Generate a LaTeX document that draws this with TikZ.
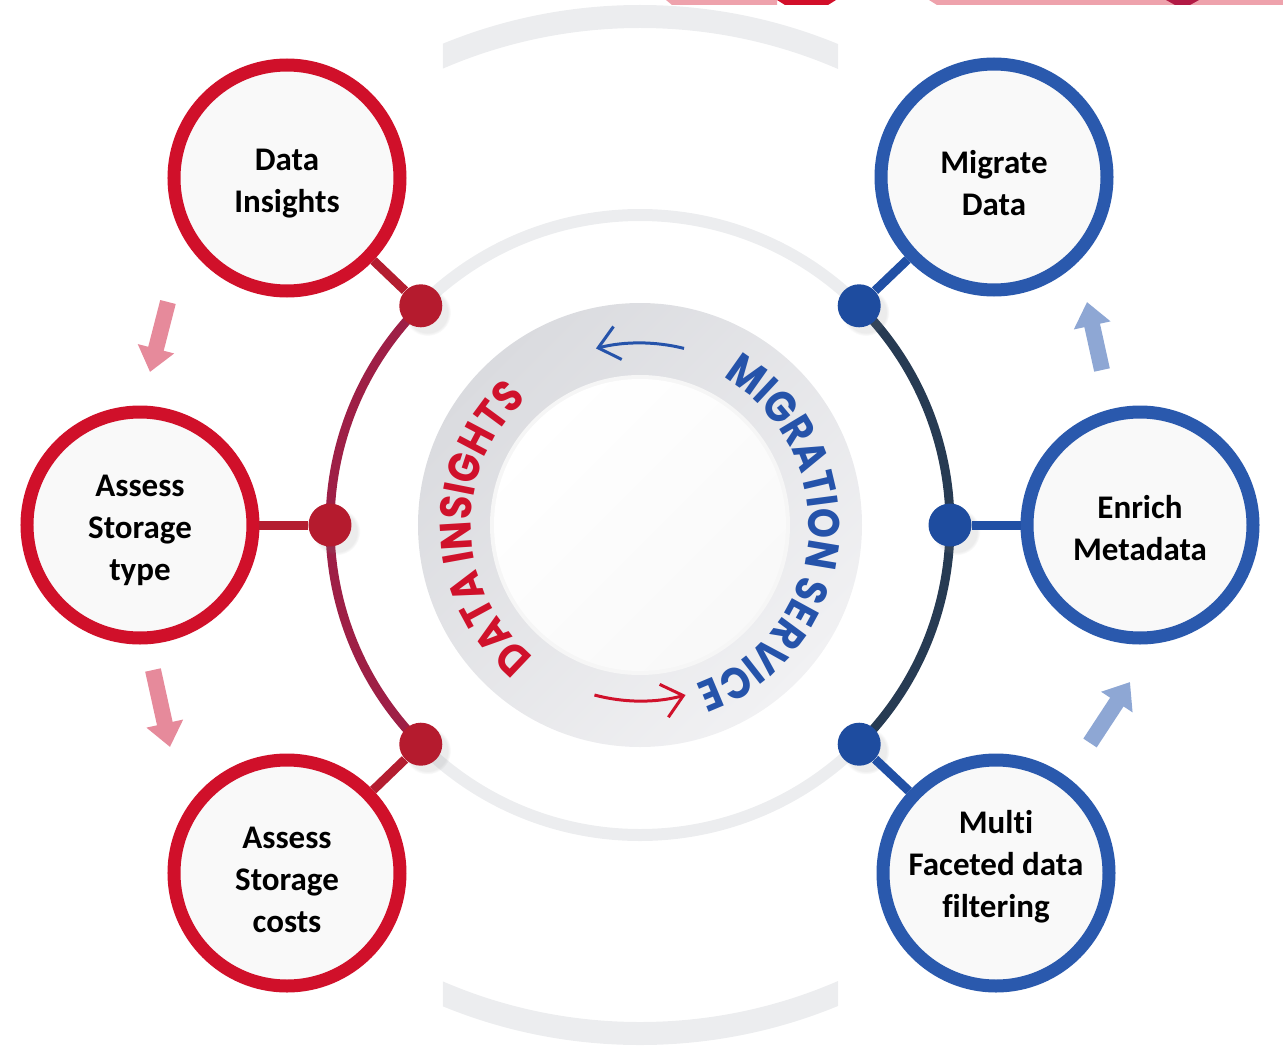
\documentclass[tikz,border=0pt]{standalone}
\usepackage{fontspec}
\setmainfont{Carlito}[Ligatures=NoCommon]
\newfontfamily\ringfont{Poppins}[FakeStretch=0.87]
\usepackage{tikz}
\usetikzlibrary{arrows.meta,decorations.text,shadows,positioning}

\definecolor{ringred}{HTML}{D0102A}
\definecolor{ringblue}{HTML}{2A59AD}
\definecolor{dotred}{HTML}{B51B2E}
\definecolor{dotblue}{HTML}{1E4C9F}
\definecolor{arcred}{HTML}{9E1F46}
\definecolor{arcblue}{HTML}{273B53}
\definecolor{linkred}{HTML}{B41D30}
\definecolor{linkblue}{HTML}{2150A5}
\definecolor{hintred}{HTML}{E68A9B}
\definecolor{hintblue}{HTML}{8EA7D4}
\definecolor{bandgray}{HTML}{ECEDEF}
\definecolor{ringgraydark}{HTML}{DADBDF}
\definecolor{ringgraylight}{HTML}{F1F1F3}
\definecolor{textred}{HTML}{D0112B}
\definecolor{textblue}{HTML}{2553AA}
\definecolor{bubblefill}{HTML}{F9F9F9}
\definecolor{stripink}{HTML}{EEA2AC}
\definecolor{stripred}{HTML}{D20F2A}
\definecolor{stripdark}{HTML}{B21A45}

\begin{document}
\begin{tikzpicture}[x=0.5pt,y=0.5pt,
    steptext/.style={align=center, font=\fontsize{16.5pt}{21pt}\selectfont\bfseries},
    bubble/.style={circle, minimum size=113pt, inner sep=0pt, line width=6.5pt, fill=bubblefill},
    redbubble/.style={bubble, draw=ringred},
    bluebubble/.style={bubble, draw=ringblue},
    hub/.style={circle, minimum size=21.5pt, inner sep=0pt,
      circular drop shadow={shadow xshift=3pt, shadow yshift=-3pt, opacity=.15}},
    redhub/.style={hub, fill=dotred},
    bluehub/.style={hub, fill=dotblue},
    redlink/.style={draw=linkred, line width=4.5pt},
    bluelink/.style={draw=linkblue, line width=4.5pt},
    redhint/.style={draw=hintred, line width=8pt, -{Triangle[length=12pt,width=18pt]}},
    bluehint/.style={draw=hintblue, line width=8pt, -{Triangle[length=12pt,width=18pt]}},
    ringtext/.style={decorate, decoration={text along path, text align=center}}]
  \useasboundingbox (-640,-520) rectangle (643,525);

  % strips cut at the top edge
  \fill[stripink] (26,525) -- (32,520) -- (137,520) -- (137,525) -- cycle;
  \fill[stripred] (137,525) -- (145,520) -- (188,520) -- (196,525) -- cycle;
  \fill[stripink] (289,525) -- (297,520) -- (643,520) -- (643,525) -- cycle;
  \fill[stripdark] (526,525) -- (535,520) -- (550,520) -- (559,525) -- cycle;

  % outer band
  \begin{scope}
    \clip (-197,-525) rectangle (198,525);
    \fill[bandgray, even odd rule] (0,0) circle (520) (0,0) circle (497);
  \end{scope}

  % middle circle
  \draw[bandgray, line width=6pt] (45:310) arc[start angle=45, end angle=135, radius=310];
  \draw[bandgray, line width=6pt] (-45:310) arc[start angle=-45, end angle=-135, radius=310];
  \draw[arcred, line width=4.5pt] (135:310) arc[start angle=135, end angle=225, radius=310];
  \draw[arcblue, line width=4.5pt] (45:310) arc[start angle=45, end angle=-45, radius=310];

  % centre ring
  \shade[top color=ringgraydark, bottom color=ringgraylight, shading angle=45] (0,0) circle (222);
  \fill[white!93!gray] (0,0) circle (150);
  \shade[top color=white, bottom color=white!95!gray, shading angle=45] (0,0) circle (146);
  \path[ringtext, decoration={text={|\ringfont\bfseries\fontsize{22pt}{22pt}\selectfont\color{textred}|DATA INSIGHTS}}]
    (270:169) arc[start angle=270, end angle=93, radius=169];
  \path[ringtext, decoration={text={|\ringfont\bfseries\fontsize{22pt}{22pt}\selectfont\color{textblue}|MIGRATION SERVICE}}]
    (85:169) arc[start angle=85, end angle=-95, radius=169];
  \draw[textblue, line width=1.5pt, -{Straight Barb[length=10pt,width=17pt]}]
    (76:182) arc[start angle=76, end angle=104, radius=182];
  \draw[textred, line width=1.5pt, -{Straight Barb[length=10pt,width=17pt]}]
    (255:176) arc[start angle=255, end angle=285, radius=176];

  % steps
  \node[redbubble, label={[steptext, yshift=-2.75pt]center:Data\\Insights}] (insights) at (-353,347) {};
  \node[redbubble, label={[steptext, yshift=-2.5pt]center:Assess\\Storage\\type}] (stype) at (-500,0) {};
  \node[redbubble, label={[steptext, yshift=-3.5pt]center:Assess\\Storage\\costs}] (scosts) at (-353,-348) {};
  \node[bluebubble, label={[steptext, yshift=-3.25pt]center:Migrate\\Data}] (migrate) at (354,348) {};
  \node[bluebubble, label={[steptext, yshift=-1.5pt]center:Enrich\\Metadata}] (enrich) at (500,0) {};
  \node[bluebubble, label={[steptext, yshift=3pt]center:Multi\\Faceted data\\filtering}] (filter) at (356,-348) {};

  \node[redhub] (hinsights) at (135:310) {};
  \node[redhub] (hstype) at (180:310) {};
  \node[redhub] (hscosts) at (225:310) {};
  \node[bluehub] (hmigrate) at (45:310) {};
  \node[bluehub] (henrich) at (0:310) {};
  \node[bluehub] (hfilter) at (-45:310) {};

  \draw[redlink] (hinsights) -- (insights);
  \draw[redlink] (hstype) -- (stype);
  \draw[redlink] (hscosts) -- (scosts);
  \draw[bluelink] (hmigrate) -- (migrate);
  \draw[bluelink] (henrich) -- (enrich);
  \draw[bluelink] (hfilter) -- (filter);

  % order hints
  \coordinate (l1a) at (-472,223);
  \coordinate (l1b) at (-490,153);
  \coordinate (l2a) at (-487,-145);
  \coordinate (l2b) at (-470,-222);
  \coordinate (r1a) at (462,155);
  \coordinate (r1b) at (447,223);
  \coordinate (r2a) at (450,-218);
  \coordinate (r2b) at (490,-157);
  \draw[redhint] (l1a) -- (l1b);
  \draw[redhint] (l2a) -- (l2b);
  \draw[bluehint] (r1a) -- (r1b);
  \draw[bluehint] (r2a) -- (r2b);
\end{tikzpicture}
\end{document}
